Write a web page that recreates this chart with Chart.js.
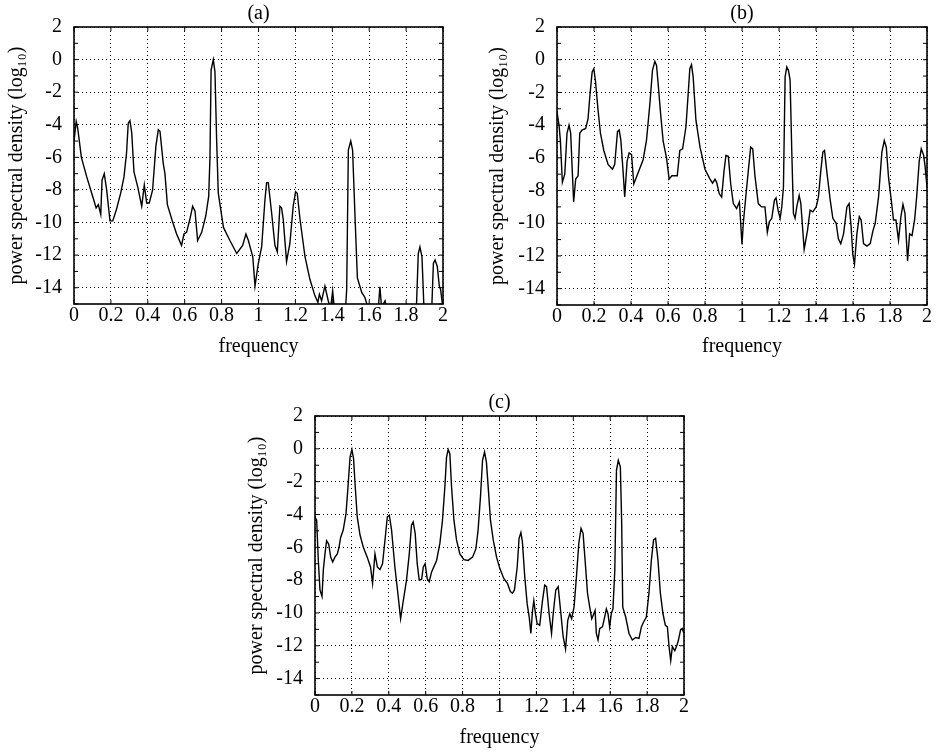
<!DOCTYPE html>
<html>
<head>
<meta charset="utf-8">
<script src="https://cdn.jsdelivr.net/npm/chart.js@4.4.1/dist/chart.umd.min.js"></script>
<style>
    body { margin: 0; background: #fff; }
    #page { position: relative; width: 943px; height: 752px; overflow: hidden; background: #fff; }
    canvas { position: absolute; }
</style>
</head>
<body>
<div id="page">
    <canvas id="chart-a" width="460" height="360" style="left:0px;top:0px"></canvas>
    <canvas id="chart-b" width="463" height="360" style="left:480px;top:0px"></canvas>
    <canvas id="chart-c" width="460" height="372" style="left:240px;top:380px"></canvas>
</div>
<script>
// Axis ticks shared by all three panels
const xTicks = [0, 0.2, 0.4, 0.6, 0.8, 1, 1.2, 1.4, 1.6, 1.8, 2]
const yTicks = [-14, -12, -10, -8, -6, -4, -2, 0, 2]
const panelTitles = ["(a)", "(b)", "(c)"]

// Panel (a) (below -15 is clipped)
const freqA = [0, 0.012, 0.02, 0.04, 0.069, 0.096, 0.12, 0.132, 0.145, 0.152, 0.164, 0.177, 0.195, 0.21, 0.23, 0.253, 0.271, 0.285, 0.294, 0.303,
    0.313, 0.325, 0.345, 0.367, 0.381, 0.394, 0.408, 0.426, 0.444, 0.457, 0.466, 0.484, 0.493, 0.506, 0.53, 0.556, 0.583, 0.596, 0.61, 0.628,
    0.643, 0.656, 0.67, 0.692, 0.714, 0.73, 0.737, 0.743, 0.755, 0.764, 0.773, 0.782, 0.81, 0.845, 0.882, 0.914, 0.932, 0.945, 0.969, 0.981,
    0.999, 1.017, 1.035, 1.044, 1.053, 1.071, 1.089, 1.102, 1.116, 1.125, 1.134, 1.152, 1.17, 1.188, 1.201, 1.21, 1.225, 1.252, 1.279, 1.306,
    1.322, 1.33, 1.342, 1.36, 1.378, 1.39, 1.402, 1.412, 1.44, 1.47, 1.478, 1.487, 1.5, 1.51, 1.523, 1.536, 1.56, 1.577, 1.595, 1.63,
    1.65, 1.658, 1.667, 1.686, 1.698, 1.78, 1.855, 1.866, 1.875, 1.886, 1.897, 1.92, 1.939, 1.948, 1.957, 1.969, 1.98, 1.987, 2.0]
const psdA = [-5.0, -3.8, -4.2, -6.0, -7.2, -8.2, -9.1, -8.9, -9.5, -7.4, -7.0, -8.0, -9.9, -9.9, -9.2, -8.2, -7.2, -5.7, -3.9, -3.75,
    -4.5, -6.9, -7.8, -9.0, -7.7, -8.8, -8.8, -8.0, -5.3, -4.3, -4.4, -6.4, -7.0, -8.9, -9.8, -10.7, -11.4, -10.7, -10.6, -9.8,
    -9.0, -9.3, -11.1, -10.6, -9.6, -8.4, -6.0, -0.65, 0.0, -0.75, -4.9, -8.2, -10.3, -11.1, -11.9, -11.4, -10.7, -11.1, -12.1, -13.9,
    -12.5, -11.5, -8.6, -7.55, -7.55, -9.4, -11.4, -11.8, -9.0, -9.1, -9.8, -12.4, -11.3, -9.0, -8.1, -8.2, -9.8, -12.1, -13.5, -14.5,
    -14.9, -14.4, -14.8, -13.9, -14.8, -15.3, -14.2, -15.4, -16, -15.6, -14.1, -5.55, -5.0, -5.55, -9.6, -13.4, -14.3, -14.6, -15.3, -16,
    -15.2, -13.95, -15.2, -14.8, -15.5, -16.5, -15.5, -11.9, -11.5, -12.1, -15.3, -16.5, -15.3, -12.5, -12.3, -12.7, -13.9, -14.1, -15.3]

// Panel (b)
const freqB = [0, 0.011, 0.018, 0.029, 0.042, 0.054, 0.065, 0.074, 0.081, 0.09, 0.101, 0.114, 0.123, 0.135, 0.155, 0.168, 0.177, 0.19, 0.199, 0.208,
    0.222, 0.235, 0.253, 0.276, 0.3, 0.312, 0.327, 0.336, 0.345, 0.357, 0.366, 0.379, 0.39, 0.403, 0.415, 0.439, 0.466, 0.484, 0.502, 0.516,
    0.529, 0.538, 0.547, 0.56, 0.574, 0.592, 0.606, 0.621, 0.637, 0.65, 0.664, 0.679, 0.697, 0.709, 0.718, 0.727, 0.736, 0.751, 0.773, 0.8,
    0.827, 0.841, 0.854, 0.863, 0.877, 0.89, 0.903, 0.913, 0.926, 0.939, 0.953, 0.971, 0.986, 1.0, 1.007, 1.022, 1.034, 1.047, 1.058, 1.07,
    1.088, 1.106, 1.124, 1.137, 1.148, 1.161, 1.175, 1.184, 1.195, 1.206, 1.215, 1.224, 1.233, 1.242, 1.251, 1.26, 1.269, 1.278, 1.287, 1.296,
    1.309, 1.318, 1.336, 1.354, 1.368, 1.383, 1.401, 1.413, 1.426, 1.437, 1.446, 1.458, 1.477, 1.491, 1.509, 1.521, 1.534, 1.549, 1.567, 1.579,
    1.59, 1.599, 1.608, 1.621, 1.634, 1.644, 1.657, 1.675, 1.693, 1.708, 1.72, 1.738, 1.756, 1.769, 1.78, 1.792, 1.807, 1.819, 1.832, 1.846,
    1.859, 1.87, 1.881, 1.895, 1.906, 1.919, 1.933, 1.944, 1.958, 1.969, 1.982, 1.99, 2.0]
const psdB = [-3.2, -4.0, -4.9, -7.5, -7.0, -4.5, -4.0, -4.5, -6.4, -8.7, -7.3, -7.1, -4.5, -4.3, -4.2, -3.6, -2.3, -0.75, -0.55, -1.3,
    -3.1, -4.5, -5.55, -6.4, -6.7, -6.4, -4.4, -4.3, -4.9, -6.8, -8.4, -6.2, -5.7, -5.8, -7.6, -6.9, -6.1, -4.9, -2.7, -0.65,
    -0.1, -0.35, -1.5, -3.3, -5.0, -6.0, -7.3, -7.1, -7.1, -7.1, -5.55, -5.45, -4.1, -2.1, -0.55, -0.3, -1.05, -3.7, -5.35, -6.7,
    -7.3, -7.55, -7.3, -7.5, -8.2, -8.4, -6.8, -5.85, -5.9, -7.6, -8.8, -9.1, -8.7, -11.3, -10.0, -8.2, -6.8, -5.35, -5.45, -7.1,
    -8.8, -9.0, -9.0, -10.55, -9.9, -9.7, -8.6, -8.45, -9.2, -9.7, -9.0, -7.8, -1.05, -0.45, -0.65, -1.25, -5.55, -9.4, -9.7, -9.0,
    -8.3, -8.8, -11.6, -10.45, -9.2, -9.3, -9.0, -8.4, -6.8, -5.65, -5.55, -6.8, -8.6, -9.7, -10.0, -10.95, -11.25, -10.65, -9.0, -8.8,
    -10.25, -11.9, -12.5, -10.65, -9.6, -9.8, -11.25, -11.4, -11.25, -10.45, -10.0, -8.4, -5.65, -4.95, -5.35, -7.2, -8.6, -9.8, -9.8, -11.05,
    -9.6, -8.85, -9.4, -12.3, -10.65, -10.75, -9.8, -8.4, -6.2, -5.45, -5.85, -6.55, -7.8]

// Panel (c)
const freqC = [0, 0.009, 0.018, 0.027, 0.038, 0.045, 0.054, 0.063, 0.074, 0.085, 0.096, 0.108, 0.121, 0.13, 0.139, 0.153, 0.168, 0.179, 0.19, 0.2,
    0.209, 0.218, 0.229, 0.244, 0.262, 0.283, 0.301, 0.312, 0.325, 0.338, 0.352, 0.366, 0.379, 0.392, 0.403, 0.415, 0.433, 0.451, 0.464, 0.478,
    0.496, 0.511, 0.523, 0.532, 0.543, 0.554, 0.565, 0.578, 0.587, 0.597, 0.608, 0.619, 0.632, 0.659, 0.677, 0.691, 0.704, 0.713, 0.722, 0.731,
    0.74, 0.753, 0.767, 0.785, 0.807, 0.83, 0.854, 0.872, 0.884, 0.897, 0.908, 0.919, 0.929, 0.941, 0.951, 0.966, 0.984, 1.002, 1.023, 1.043,
    1.059, 1.07, 1.081, 1.096, 1.106, 1.116, 1.124, 1.137, 1.15, 1.161, 1.17, 1.179, 1.186, 1.195, 1.204, 1.218, 1.233, 1.245, 1.255, 1.269,
    1.282, 1.291, 1.305, 1.318, 1.331, 1.345, 1.358, 1.37, 1.381, 1.391, 1.404, 1.417, 1.43, 1.442, 1.453, 1.464, 1.477, 1.489, 1.5, 1.511,
    1.518, 1.525, 1.534, 1.543, 1.558, 1.57, 1.579, 1.588, 1.597, 1.606, 1.615, 1.625, 1.634, 1.644, 1.655, 1.662, 1.668, 1.684, 1.702, 1.72,
    1.738, 1.756, 1.769, 1.781, 1.796, 1.81, 1.823, 1.835, 1.846, 1.859, 1.872, 1.886, 1.899, 1.91, 1.919, 1.928, 1.937, 1.95, 1.962, 1.97,
    1.981, 1.99, 2.0]
const psdC = [-4.15, -4.35, -6.8, -8.6, -9.0, -7.4, -6.4, -5.6, -5.8, -6.6, -6.9, -6.6, -6.4, -6.0, -5.4, -4.95, -3.95, -2.3, -0.5, -0.05,
    -0.6, -2.3, -4.15, -5.25, -6.0, -6.6, -7.2, -8.2, -6.4, -7.2, -7.35, -7.0, -5.6, -4.15, -4.05, -4.95, -7.2, -9.0, -10.35, -9.3,
    -8.0, -6.4, -4.65, -4.45, -5.15, -7.0, -8.0, -7.95, -7.2, -7.0, -7.9, -8.1, -7.5, -6.8, -5.75, -4.35, -2.3, -0.5, -0.05, -0.3,
    -2.3, -4.35, -5.55, -6.4, -6.75, -6.8, -6.6, -6.1, -4.95, -2.9, -0.7, -0.2, -0.8, -2.7, -4.35, -5.55, -6.6, -7.3, -7.9, -8.2,
    -8.7, -8.8, -8.6, -7.2, -5.45, -5.1, -5.65, -7.8, -9.45, -10.25, -11.25, -9.85, -9.25, -10.05, -10.65, -10.75, -9.25, -8.3, -8.4, -10.05,
    -11.25, -10.05, -8.6, -8.4, -9.85, -11.45, -12.2, -10.45, -10.05, -10.35, -9.65, -7.8, -5.75, -4.85, -5.15, -6.8, -8.8, -9.65, -10.35, -10.05,
    -9.85, -11.25, -11.65, -10.95, -10.85, -10.25, -9.75, -10.05, -10.85, -10.05, -9.75, -7.4, -1.3, -0.7, -1.1, -4.35, -9.65, -10.25, -11.25, -11.65,
    -11.5, -11.55, -10.85, -10.55, -10.25, -8.8, -6.8, -5.55, -5.45, -6.8, -8.8, -10.05, -10.75, -10.85, -12.05, -12.9, -12.05, -12.3, -11.95, -11.65,
    -11.05, -10.95, -11.25]

const serif = "'Liberation Serif', 'Times New Roman', 'DejaVu Serif', serif"

// Solid frame round the plot area plus short inward tick marks
const framePlugin = {
    id: "frame",
    afterDatasetsDraw(chart) {
        const { ctx, chartArea, scales } = chart
        const { left, top, right, bottom } = chartArea
        ctx.save()
        ctx.strokeStyle = "#000"
        ctx.lineWidth = 1
        for (let v = -15; v <= 2; v++) {
            const py = scales.y.getPixelForValue(v)
            ctx.beginPath()
            ctx.moveTo(left, py); ctx.lineTo(left + 4, py)
            ctx.moveTo(right, py); ctx.lineTo(right - 4, py)
            ctx.stroke()
        }
        xTicks.forEach((v) => {
            const px = scales.x.getPixelForValue(v)
            ctx.beginPath()
            ctx.moveTo(px, top); ctx.lineTo(px, top + 4)
            ctx.moveTo(px, bottom); ctx.lineTo(px, bottom - 4)
            ctx.stroke()
        })
        ctx.lineWidth = 1.6
        ctx.strokeRect(left, top, right - left, bottom - top)
        ctx.restore()
    }
}

// Build one panel; geometry values pin the plot area to the reference
const createPanel = (canvasId, title, freq, psd, geo) => {
    const points = freq.map((f, i) => ({ x: f, y: psd[i] }))

    new Chart(document.getElementById(canvasId), {
        type: "line",
        data: {
            datasets: [{
                data: points,
                borderColor: "#000",
                borderWidth: 1.4,
                pointRadius: 0,
                tension: 0,
                fill: false
            }]
        },
        options: {
            responsive: false,
            animation: false,
            devicePixelRatio: 1,
            layout: { padding: { left: 0, right: geo.padRight, top: 0, bottom: 0 } },
            plugins: {
                legend: { display: false },
                tooltip: { enabled: false },
                title: {
                    display: true,
                    fullSize: false,
                    text: title,
                    color: "#000",
                    font: { family: serif, size: 20, weight: "normal", lineHeight: 1.2 },
                    padding: { top: geo.titleTop, bottom: geo.titleBottom }
                }
            },
            scales: {
                x: {
                    type: "linear",
                    min: 0,
                    max: 2,
                    afterBuildTicks: (scale) => { scale.ticks = xTicks.map((v) => ({ value: v })) },
                    afterFit: (scale) => { scale.height = geo.xHeight },
                    ticks: {
                        color: "#000",
                        padding: 0,
                        maxRotation: 0,
                        font: { family: serif, size: 20 },
                        callback: (v) => String(Number(v.toFixed(1)))
                    },
                    grid: { color: "#000", lineWidth: 1, drawTicks: false },
                    border: { display: false, dash: [1, 3] },
                    title: {
                        display: true,
                        text: "frequency",
                        color: "#000",
                        font: { family: serif, size: 20, lineHeight: 1.2 },
                        padding: { top: 0, bottom: geo.xTitleBottom }
                    }
                },
                y: {
                    type: "linear",
                    min: -15,
                    max: 2,
                    afterBuildTicks: (scale) => { scale.ticks = yTicks.map((v) => ({ value: v })) },
                    afterFit: (scale) => { scale.width = geo.yWidth },
                    ticks: {
                        color: "#000",
                        padding: 12,
                        font: { family: serif, size: 20 },
                        callback: (v) => String(v)
                    },
                    grid: { color: "#000", lineWidth: 1, drawTicks: false },
                    border: { display: false, dash: [1, 3] },
                    title: {
                        display: true,
                        text: "power spectral density (log₁₀)",
                        color: "#000",
                        font: { family: serif, size: 20, lineHeight: 1.2 },
                        padding: { top: geo.yTitleTop, bottom: 0 }
                    }
                }
            }
        },
        plugins: [framePlugin]
    })
}

createPanel("chart-a", panelTitles[0], freqA, psdA,
    { padRight: 17, titleTop: 2, titleBottom: 1, xHeight: 56, xTitleBottom: 1, yWidth: 74, yTitleTop: 5 })
createPanel("chart-b", panelTitles[1], freqB, psdB,
    { padRight: 16, titleTop: 2, titleBottom: 1, xHeight: 55, xTitleBottom: 1, yWidth: 77, yTitleTop: 6 })
createPanel("chart-c", panelTitles[2], freqC, psdC,
    { padRight: 16, titleTop: 11, titleBottom: 1, xHeight: 57, xTitleBottom: 2, yWidth: 75, yTitleTop: 5 })
</script>
</body>
</html>
